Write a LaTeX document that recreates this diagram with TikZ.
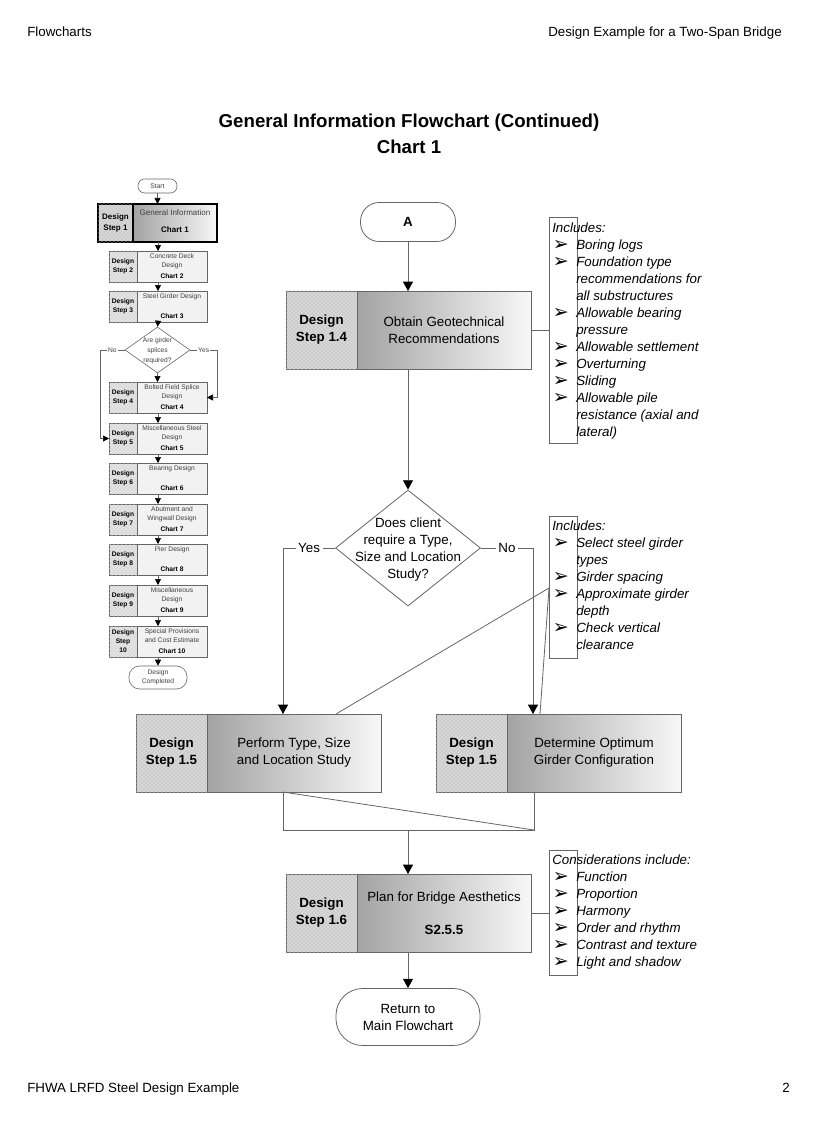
\documentclass[tikz,border=0pt]{standalone}
\usepackage{fontspec}
\setmainfont{Liberation Sans}
\newfontfamily\dejavu{DejaVu Sans}
\usetikzlibrary{shapes.geometric,arrows.meta,patterns}
\newcommand\bul{\makebox[18pt][l]{\hspace{0.4pt}\raisebox{-0.6pt}{\scalebox{1.5}{\dejavu\upshape\fontsize{9.5}{9.5}\selectfont ➢}}}}
\newcommand\ind{\hspace*{18pt}}
\newcommand\mstep[5]{%
  \node[msl, anchor=north west] (#1l) at (109,#2) {#3};
  \node[msr, anchor=north west] (#1r) at (#1l.north east) {};
  \node[mtxt, anchor=north] (#1t) at ([yshift=-1.8pt]#1r.north) {#4};
  \node[mchart, anchor=base] (#1c) at ([yshift=3pt]#1r.south) {#5};
}
\tikzset{
  ln/.style={draw=black!60, line width=0.6pt},
  arr/.style={ln, -{Triangle[width=7.5pt,length=7pt,color=black]}},
  mln/.style={draw=black!60, line width=0.45pt},
  marr/.style={mln, -{Triangle[width=4.5pt,length=4.5pt,color=black]}},
  dsl/.style={draw=black!60, line width=0.6pt, fill=black!20,
    postaction={pattern=crosshatch dots, pattern color=white},
    minimum width=53.25pt, minimum height=58.5pt, inner sep=0pt, outer sep=0pt,
    align=center, font=\bfseries\fontsize{10}{12.75}\selectfont},
  dsr/.style={draw=black!60, line width=0.6pt, left color=black!36, right color=black!3,
    minimum width=130.5pt, minimum height=58.5pt, inner sep=0pt, outer sep=0pt,
    align=center, font=\fontsize{10}{12.75}\selectfont},
  term/.style={draw=black!60, line width=0.6pt, fill=white, align=center,
    font=\fontsize{10}{12.75}\selectfont, inner sep=0pt},
  brk/.style={draw=black!60, line width=0.6pt, minimum width=21pt, inner sep=0pt, outer sep=0pt},
  lst/.style={anchor=north west, inner sep=0pt, align=left,
    font=\itshape\fontsize{10}{12.75}\selectfont},
  lab/.style={fill=white, inner sep=2pt, font=\fontsize{10}{12}\selectfont},
  msl/.style={draw=black!60, line width=0.45pt, fill=black!14,
    postaction={pattern=crosshatch dots, pattern color=white},
    minimum width=21pt, minimum height=23.25pt, inner sep=0pt, outer sep=0pt,
    align=center, font=\bfseries\fontsize{5}{6.75}\selectfont},
  msr/.style={draw=black!60, line width=0.45pt, fill=black!5,
    minimum width=52.5pt, minimum height=23.25pt, inner sep=0pt, outer sep=0pt},
  mtxt/.style={inner sep=0pt, align=center, font=\fontsize{5}{6.75}\selectfont, text=black!75},
  mchart/.style={inner sep=0pt, font=\bfseries\fontsize{5}{6}\selectfont},
  mlab/.style={fill=white, inner sep=0.8pt, font=\fontsize{5}{6}\selectfont, text=black!75},
  mterm/.style={draw=black!60, line width=0.45pt, fill=white, align=center, inner sep=0pt,
    font=\fontsize{5}{6.75}\selectfont, text=black!75},
}
\begin{document}
\begin{tikzpicture}[x=0.75pt,y=-0.75pt]
\useasboundingbox (0,0) rectangle (816,1123);

% header / footer / title
\node[anchor=base west, inner sep=0pt, font=\fontsize{10}{12}\selectfont] (h1) at (27,37) {Flowcharts};
\node[anchor=base east, inner sep=0pt, font=\fontsize{10}{12}\selectfont] (h2) at (782,37) {Design Example for a Two-Span Bridge};
\node[anchor=base west, inner sep=0pt, font=\fontsize{10}{12}\selectfont] (f1) at (27,1092) {FHWA LRFD Steel Design Example};
\node[anchor=base east, inner sep=0pt, font=\fontsize{10}{12}\selectfont] (f2) at (790,1092) {2};
\node[align=center, inner sep=0pt, font=\bfseries\fontsize{14}{19.5}\selectfont] (title) at (409,134)
  {General Information Flowchart (Continued)\\Chart 1};

% ---------------- mini flowchart ----------------
\coordinate (cx) at (158,0);
\node[mterm, minimum width=29.25pt, minimum height=10.5pt, rounded corners=5pt] (start) at (157.5,186) {Start};
\node[draw=black, line width=1.5pt, fill=black!20,
    postaction={pattern=crosshatch dots, pattern color=white},
    minimum width=26.25pt, minimum height=28.5pt, inner sep=0pt, outer sep=0pt,
    align=center, font=\bfseries\fontsize{6}{8}\selectfont, anchor=north west] (s1l) at (98,204) {Design\\Step 1};
\node[draw=black, line width=1.5pt, left color=black!36, right color=black!3,
    minimum width=63pt, minimum height=28.5pt, inner sep=0pt, outer sep=0pt,
    anchor=north west] (s1r) at (s1l.north east) {};
\node[inner sep=0pt, font=\fontsize{6}{7.5}\selectfont, text=black!75, anchor=north] (s1t) at ([yshift=-4pt]s1r.north) {General Information};
\node[inner sep=0pt, font=\bfseries\fontsize{6}{7.5}\selectfont, anchor=base] (s1c) at ([yshift=7pt]s1r.south) {Chart 1};

\mstep{s2}{251}{Design\\Step 2}{Concrete Deck\\Design}{Chart 2}
\mstep{s3}{291}{Design\\Step 3}{Steel Girder Design}{Chart 3}
\node[diamond, draw=black!60, line width=0.45pt, fill=white, minimum width=48.75pt, minimum height=34.5pt, inner sep=0pt] (dm) at (157.5,350) {};
\node[mtxt, font=\fontsize{5}{7.5}\selectfont] (dmt) at (157.5,351) {Are girder\\splices\\required?};
\mstep{s4}{382}{Design\\Step 4}{Bolted Field Splice\\Design}{Chart 4}
\mstep{s5}{423}{Design\\Step 5}{Miscellaneous Steel\\Design}{Chart 5}
\mstep{s6}{463}{Design\\Step 6}{Bearing Design}{Chart 6}
\mstep{s7}{504}{Design\\Step 7}{Abutment and\\Wingwall Design}{Chart 7}
\mstep{s8}{544}{Design\\Step 8}{Pier Design}{Chart 8}
\mstep{s9}{585}{Design\\Step 9}{Miscellaneous\\Design}{Chart 9}
\mstep{s10}{626}{Design\\Step\\10}{Special Provisions\\and Cost Estimate}{Chart 10}
\node[mterm, minimum width=43.5pt, minimum height=17.25pt, rounded corners=8pt] (dc) at (158,677.5) {Design\\Completed};

\draw[marr] (start.south) -- (start.south |- s1r.north);
\draw[marr] (s1r.south -| cx) -- (s2r.north -| cx);
\draw[marr] (s2r.south -| cx) -- (s3r.north -| cx);
\draw[marr] (s3r.south -| cx) -- (dm.north);
\draw[marr] (dm.south) -- (dm.south |- s4r.north);
\foreach \a/\b in {s4r/s5r, s5r/s6r, s6r/s7r, s7r/s8r, s8r/s9r, s9r/s10r}
  \draw[marr] (\a.south -| cx) -- (\b.north -| cx);
\draw[marr] (s10r.south -| cx) -- (dc.north -| cx);
\coordinate (mno) at (100,350);
\coordinate (myes) at (217,350);
\draw[marr] (dm.west) -- node[mlab]{No} (mno) |- (s5l.west);
\draw[marr] (dm.east) -- node[mlab]{Yes} (myes) |- (s4r.east);

% ---------------- main flowchart ----------------
\node[term, minimum width=71.25pt, minimum height=29.25pt, rounded corners=14pt, font=\bfseries\fontsize{10}{12}\selectfont] (A) at (408,222) {A};

\node[dsl, anchor=north west] (s14l) at (286,291) {Design\\Step 1.4};
\node[dsr, anchor=north west] (s14r) at (s14l.north east) {Obtain Geotechnical\\Recommendations};

\node[brk, minimum height=169.5pt] (inc1) at (563,330) {};
\node[lst] (inc1t) at (552,223) {Includes:\\
\bul Boring logs\\
\bul Foundation type\\
\ind recommendations for\\
\ind all substructures\\
\bul Allowable bearing\\
\ind pressure\\
\bul Allowable settlement\\
\bul Overturning\\
\bul Sliding\\
\bul Allowable pile\\
\ind resistance (axial and\\
\ind lateral)};

\node[diamond, draw=black!60, line width=0.6pt, fill=white, minimum width=108.75pt, minimum height=87pt, inner sep=0pt] (dec) at (408,548) {};
\node[align=center, inner sep=0pt, font=\fontsize{10}{12.75}\selectfont] (dect) at (408,549.5)
  {Does client\\require a Type,\\Size and Location\\Study?};

\node[brk, minimum height=106.5pt] (inc2) at (563,587) {};
\node[lst] (inc2t) at (552,521) {Includes:\\
\bul Select steel girder\\
\ind types\\
\bul Girder spacing\\
\bul Approximate girder\\
\ind depth\\
\bul Check vertical\\
\ind clearance};

\node[dsl, anchor=north west] (s15al) at (136,714) {Design\\Step 1.5};
\node[dsr, anchor=north west] (s15ar) at (s15al.north east) {Perform Type, Size\\and Location Study};
\node[dsl, anchor=north west] (s15bl) at (436,714) {Design\\Step 1.5};
\node[dsr, anchor=north west] (s15br) at (s15bl.north east) {Determine Optimum\\Girder Configuration};

\node[dsl, anchor=north west] (s16l) at (286,874) {Design\\Step 1.6};
\node[dsr, anchor=north west] (s16r) at (s16l.north east) {Plan for Bridge Aesthetics\\[12pt]\textbf{S2.5.5}};

\node[brk, minimum height=93.75pt] (inc3) at (563.5,912.5) {};
\node[lst] (inc3t) at (552,855) {Considerations include:\\
\bul Function\\
\bul Proportion\\
\bul Harmony\\
\bul Order and rhythm\\
\bul Contrast and texture\\
\bul Light and shadow};

\node[term, minimum width=108pt, minimum height=42.75pt, rounded corners=20pt] (ret) at (408,1017) {Return to\\Main Flowchart};

% connectors
\draw[arr] (A.south) -- (A.south |- s14r.north);
\draw[arr] (A.south |- s14r.south) -- (dec.north);
\draw[ln] (s14r.east) -- (inc1.west |- s14r.east);

\coordinate (yesc) at (283,548);
\coordinate (noc) at (533,548);
\draw[arr] (dec.west) -- node[lab]{Yes} (yesc) -- (yesc |- s15ar.north);
\draw[arr] (dec.east) -- node[lab]{No} (noc) -- (noc |- s15br.north);

\coordinate (b2c) at (549,588);
\coordinate (d1) at (336,714);
\coordinate (d2) at (540,714);
\draw[ln] (b2c) -- (d1);
\draw[ln] (b2c) -- (d2);

\coordinate (m1) at (283,830);
\coordinate (m2) at (534,830);
\coordinate (m0) at (408,830);
\draw[ln] (s15ar.south -| m1) -- (m1) -- (m2) -- (s15br.south -| m2);
\draw[ln] (s15ar.south -| m1) -- (m2);
\draw[arr] (m0) -- (m0 |- s16r.north);
\draw[ln] (s16r.east) -- (inc3.west |- s16r.east);
\draw[arr] (m0 |- s16r.south) -- (ret.north);
\end{tikzpicture}
\end{document}
